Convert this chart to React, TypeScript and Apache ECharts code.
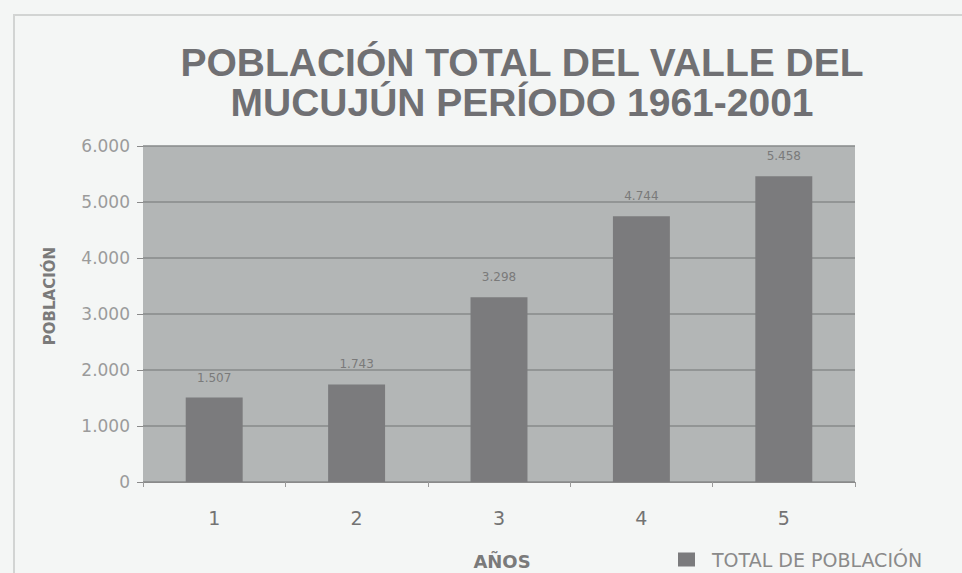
import React, { useEffect, useRef } from "react";
import * as echarts from "echarts";

const categories = ["1", "2", "3", "4", "5"];
const poblacion = [1507, 1743, 3298, 4744, 5458];
const titleLines = ["POBLACIÓN TOTAL DEL VALLE DEL", "MUCUJÚN PERÍODO 1961-2001"];
const seriesName = "TOTAL DE POBLACIÓN";
const yAxisName = "POBLACIÓN";
const xAxisName = "AÑOS";

const fmt = (v: number) => String(v).replace(/\B(?=(\d{3})+(?!\d))/g, ".");
const SMALL_FONT = "DejaVu Sans";

export default function App() {
  const ref = useRef<HTMLDivElement>(null);
  useEffect(() => {
    if (!ref.current) return;
    const chart = echarts.init(ref.current, undefined, { renderer: "svg" });
    chart.setOption({
      animation: false,
      backgroundColor: "#f4f6f5",
      textStyle: { fontFamily: SMALL_FONT },
      title: {
        text: titleLines.join("\n"),
        left: 517,
        textAlign: "center",
        top: 37,
        textStyle: {
          fontSize: 39,
          fontWeight: "bold",
          color: "#707073",
          lineHeight: 40,
          fontFamily: "Liberation Sans",
        },
      },
      graphic: [
        {
          type: "polyline",
          shape: { points: [[14, 573], [14, 15], [962, 15]] },
          style: { stroke: "#d2d4d3", lineWidth: 2, fill: "none" },
          silent: true,
        },
      ],
      legend: {
        data: [seriesName],
        left: 673,
        top: 545,
        itemWidth: 17,
        itemHeight: 14,
        itemGap: 10,
        icon: "rect",
        textStyle: {
          fontSize: 19,
          color: "#8a8a8a",
          fontFamily: SMALL_FONT,
          padding: [0, 0, 0, 12],
        },
      },
      grid: {
        left: 143,
        right: 107,
        top: 146,
        bottom: 91,
        show: true,
        backgroundColor: "#b3b6b6",
        borderWidth: 0,
        containLabel: false,
        outerBoundsMode: "none",
      },
      xAxis: {
        type: "category",
        data: categories,
        name: xAxisName,
        nameLocation: "middle",
        nameGap: 70,
        nameTextStyle: {
          fontSize: 18,
          fontWeight: "bold",
          color: "#7a7a7a",
          fontFamily: SMALL_FONT,
          padding: [0, 0, 0, 6],
        },
        axisLine: { show: true, lineStyle: { color: "#8a8a8a", width: 1 } },
        axisTick: { show: true, length: 5, lineStyle: { color: "#9a9a9a" } },
        axisLabel: { fontSize: 19, color: "#737373", margin: 26, fontFamily: SMALL_FONT },
      },
      yAxis: {
        type: "value",
        min: 0,
        max: 6000,
        interval: 1000,
        name: yAxisName,
        nameLocation: "middle",
        nameGap: 86,
        nameRotate: 90,
        nameTextStyle: {
          fontSize: 15,
          fontWeight: "bold",
          color: "#7a7a7a",
          fontFamily: SMALL_FONT,
          padding: [0, 0, 0, 36],
        },
        axisLine: { show: false },
        axisTick: { show: true, length: 6, lineStyle: { color: "#8a8a8a" } },
        axisLabel: {
          fontSize: 17,
          color: "#9b9b9b",
          margin: 13,
          fontFamily: SMALL_FONT,
          formatter: (v: number) => fmt(v),
        },
        splitLine: { show: true, lineStyle: { color: "#878a8a", width: 1.5 } },
      },
      series: [
        {
          name: seriesName,
          type: "bar",
          data: poblacion,
          barWidth: "40%",
          itemStyle: { color: "#7b7b7d" },
          label: {
            show: true,
            position: "top",
            distance: 14,
            fontSize: 12,
            color: "#7a7a7a",
            fontFamily: SMALL_FONT,
            formatter: (p: any) => fmt(p.value),
          },
        },
      ],
    });
    return () => chart.dispose();
  }, []);
  return (
    <div
      ref={ref}
      style={{ position: "fixed", left: 0, top: 0, width: 962, height: 573 }}
    />
  );
}
